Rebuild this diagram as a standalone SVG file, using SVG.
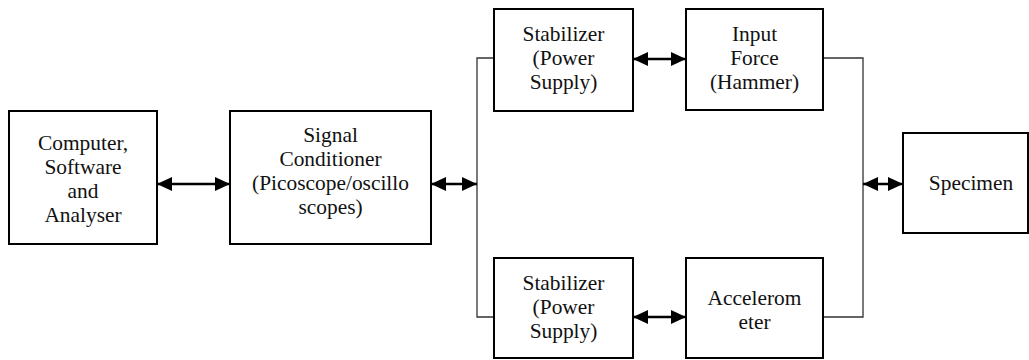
<svg xmlns="http://www.w3.org/2000/svg" width="1029" height="360" viewBox="0 0 1029 360">
<style>
.box{fill:#fff;stroke:#000;stroke-width:2}
text{font-size:21.4px;fill:#111;text-anchor:middle}
.wire{fill:none;stroke:#333;stroke-width:1.3}
.arr{stroke:#000;stroke-width:2.5;marker-start:url(#ah);marker-end:url(#ah)}
</style>
<defs>
<marker id="ah" viewBox="0 0 15 14" refX="15" refY="7" markerWidth="15" markerHeight="14" markerUnits="userSpaceOnUse" orient="auto-start-reverse">
<path d="M0,0 L15,7 L0,14 z" fill="#000"/>
</marker>
</defs>
<rect width="1029" height="360" fill="#fff"/>
<g id="connectors">
<polyline class="wire" points="494,58 477,58 477,317 494,317"/>
<polyline class="wire" points="823,58 863,58 863,317 823,317"/>
<line class="arr" x1="157" y1="184" x2="230" y2="184"/>
<line class="arr" x1="431" y1="184" x2="477" y2="184"/>
<line class="arr" x1="633" y1="59" x2="686" y2="59"/>
<line class="arr" x1="633" y1="317" x2="686" y2="317"/>
<line class="arr" x1="863" y1="184" x2="903" y2="184"/>
</g>
<g font-family="Liberation Serif, DejaVu Serif, serif">
<g id="computer">
<rect class="box" x="9" y="111" width="148" height="133"/>
<text x="83" y="150">Computer,</text>
<text x="83" y="174">Software</text>
<text x="83" y="198">and</text>
<text x="83" y="222">Analyser</text>
</g>
<g id="signal-conditioner">
<rect class="box" x="230" y="111" width="201" height="133"/>
<text x="330.5" y="142">Signal</text>
<text x="330.5" y="166">Conditioner</text>
<text x="330.5" y="190">(Picoscope/oscillo</text>
<text x="330.5" y="214">scopes)</text>
</g>
<g id="stabilizer-top">
<rect class="box" x="494" y="9" width="139" height="102"/>
<text x="563.5" y="41">Stabilizer</text>
<text x="563.5" y="65">(Power</text>
<text x="563.5" y="89">Supply)</text>
</g>
<g id="input-force">
<rect class="box" x="686" y="9" width="137" height="101"/>
<text x="754.5" y="41">Input</text>
<text x="754.5" y="65">Force</text>
<text x="754.5" y="89">(Hammer)</text>
</g>
<g id="stabilizer-bottom">
<rect class="box" x="494" y="258" width="139" height="100"/>
<text x="563.5" y="290">Stabilizer</text>
<text x="563.5" y="314">(Power</text>
<text x="563.5" y="338">Supply)</text>
</g>
<g id="accelerometer">
<rect class="box" x="686" y="258" width="137" height="100"/>
<text x="754.5" y="305">Accelerom</text>
<text x="754.5" y="329">eter</text>
</g>
<g id="specimen">
<rect class="box" x="903" y="133" width="125" height="100"/>
<text x="971" y="190">Specimen</text>
</g>
</g>
</svg>
